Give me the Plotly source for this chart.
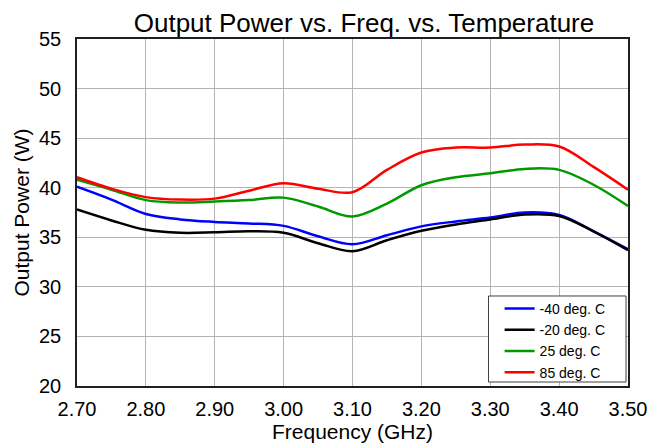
import plotly.graph_objects as go

freq = [2.70, 2.75, 2.80, 2.85, 2.90, 2.95, 3.00, 3.05, 3.10, 3.15, 3.20, 3.25, 3.30, 3.35, 3.40, 3.45, 3.50]
m40 = [40.1, 38.8, 37.35, 36.8, 36.55, 36.4, 36.15, 35.1, 34.3, 35.2, 36.1, 36.6, 37.0, 37.5, 37.25, 35.6, 33.8]
m20 = [37.8, 36.7, 35.75, 35.45, 35.5, 35.6, 35.45, 34.4, 33.6, 34.7, 35.65, 36.3, 36.8, 37.3, 37.15, 35.6, 33.7]
p25 = [40.8, 39.8, 38.75, 38.5, 38.6, 38.75, 39.0, 38.1, 37.1, 38.4, 40.25, 41.05, 41.45, 41.9, 41.8, 40.3, 38.15]
p85 = [41.05, 39.9, 39.05, 38.8, 38.9, 39.7, 40.45, 39.9, 39.55, 41.8, 43.55, 44.05, 44.05, 44.35, 44.15, 42.1, 39.8]

names = ["-40 deg. C", "-20 deg. C", "25 deg. C", "85 deg. C"]
series = [m40, m20, p25, p85]
colors = ["#0000ff", "#000000", "#009900", "#ff0000"]

fig = go.Figure()
for n, s, c in zip(names, series, colors):
    fig.add_trace(go.Scatter(x=freq, y=s, name=n, mode="lines",
                             line=dict(color=c, width=2.5, shape="spline", smoothing=1.0)))

font = "Liberation Sans, Arial, sans-serif"
fig.add_shape(type="rect", xref="paper", yref="paper", x0=0.7468, x1=0.9964, y0=0.0115, y1=0.2594,
              line=dict(color="#404040", width=1), fillcolor="white", layer="above")
fig.update_layout(
    width=658, height=446,
    margin=dict(l=67, r=38, t=31, b=68),
    paper_bgcolor="white", plot_bgcolor="white",
    font=dict(family=font, color="black"),
    title=dict(text="Output Power vs. Freq. vs. Temperature", x=0.541, xanchor="center",
               y=0.966, yanchor="middle", font=dict(size=26, family=font, color="black")),
    showlegend=True,
    legend=dict(x=0.767, y=0.268, xanchor="left", yanchor="top",
                bgcolor="rgba(0,0,0,0)", borderwidth=0,
                font=dict(size=14, family=font, color="black"),
                tracegroupgap=0, itemwidth=30),
    xaxis=dict(range=[2.70, 3.50], tickmode="array",
               tickvals=[2.7, 2.8, 2.9, 3.0, 3.1, 3.2, 3.3, 3.4, 3.5],
               ticktext=["2.70", "2.80", "2.90", "3.00", "3.10", "3.20", "3.30", "3.40", "3.50"],
               showgrid=True, gridcolor="#b4b4b4", gridwidth=1,
               showline=True, linecolor="#202020", linewidth=1.5, mirror=True,
               zeroline=False, tickfont=dict(size=20), ticklabelstandoff=4,
               title=dict(text="Frequency (GHz)", font=dict(size=21), standoff=2)),
    yaxis=dict(range=[20, 55], tickmode="array", tickvals=[20, 25, 30, 35, 40, 45, 50, 55],
               showgrid=True, gridcolor="#b4b4b4", gridwidth=1,
               showline=True, linecolor="#202020", linewidth=1.5, mirror=True,
               zeroline=False, tickfont=dict(size=20), ticklabelstandoff=10,
               title=dict(text="Output Power (W)", font=dict(size=21), standoff=4)),
)

fig.write_html("out.html")
